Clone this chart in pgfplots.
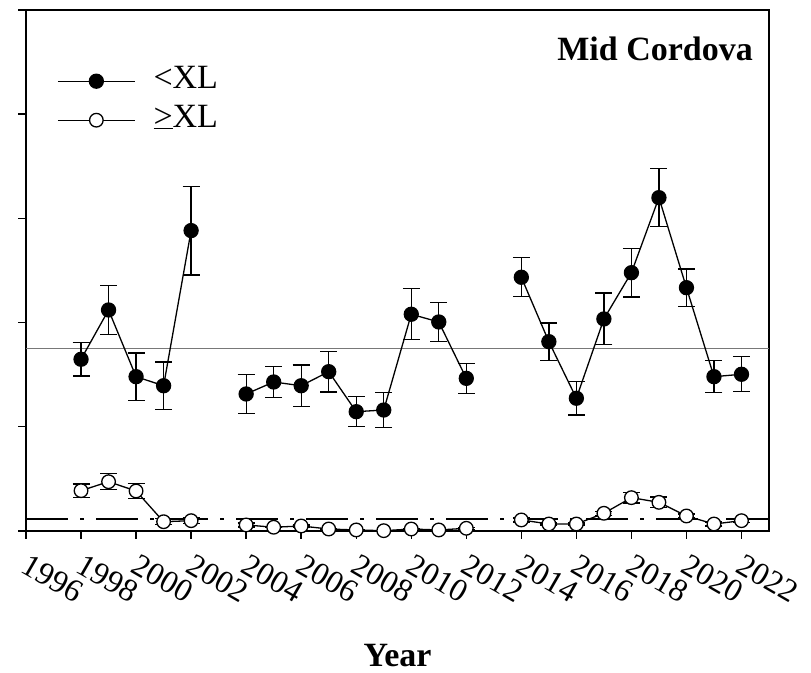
\documentclass[border=0pt]{standalone}
\usepackage{pgfplots}
\pgfplotsset{compat=1.18}
\usepackage{pgfplotstable}
\usepackage{fontspec}
\setmainfont{Liberation Serif}
\newcommand{\bigfont}{\fontsize{34}{40}\selectfont}
\newcommand{\tickfont}{\fontsize{32}{38}\selectfont}

\pgfplotstableread{
year  b      be     w      we
1998  1.648  0.160  0.387  0.065
1999  2.121  0.235  0.473  0.078
2000  1.481  0.227  0.384  0.070
2001  1.394  0.227  0.089  0.030
2002  2.883  0.425  0.099  0.030
2003  nan    nan    nan    nan
2004  1.315  0.187  0.058  0.020
2005  1.430  0.150  0.036  0.000
2006  1.394  0.200  0.048  0.010
2007  1.529  0.195  0.019  0.000
2008  1.145  0.143  0.010  0.000
2009  1.161  0.170  0.003  0.000
2010  2.080  0.245  0.019  0.000
2011  2.006  0.190  0.010  0.000
2012  1.465  0.144  0.026  0.010
2013  nan    nan    nan    nan
2014  2.435  0.187  0.106  0.020
2015  1.817  0.178  0.067  0.010
2016  1.274  0.160  0.067  0.010
2017  2.035  0.248  0.170  0.020
2018  2.479  0.233  0.320  0.050
2019  3.199  0.280  0.275  0.050
2020  2.335  0.180  0.144  0.020
2021  1.481  0.152  0.067  0.020
2022  1.504  0.168  0.099  0.020
}\datatable

\begin{document}
\begin{tikzpicture}
\begin{axis}[
  name=ax,
  scale only axis,
  width=743pt, height=521pt,
  xmin=1996, xmax=2023,
  ymin=0, ymax=5,
  xtick={1996,1998,...,2022},
  ytick={0,1,...,5},
  yticklabels={},
  xtick pos=bottom, ytick pos=left,
  tick align=outside,
  major tick length=8pt,
  axis line style={line width=1.4pt},
  every tick/.style={line width=1.4pt, black},
  /pgf/number format/assume math mode=true,
  /pgf/number format/1000 sep={},
  xticklabel style={font=\tickfont, inner sep=0pt, xshift=4pt, yshift=-14pt, rotate=-30, anchor=north west},
  unbounded coords=jump,
  legend style={draw=none, fill=none, font=\bigfont, at={(0,1)}, anchor=north west,
    xshift=31pt, yshift=-58pt, inner sep=0pt, column sep=18pt, row sep=13pt,
    nodes={inner sep=0pt, text height=20pt, text depth=6pt}},
  legend cell align=left,
  legend image code/.code={\draw[mark repeat=2,mark phase=2,#1] plot coordinates {(0pt,0pt) (38.5pt,0pt) (77pt,0pt)};},
]
\addplot[forget plot, color={rgb,255:red,120;green,120;blue,120}, line width=1.5pt] coordinates {(1996,1.751) (2023,1.751)};
\addplot[forget plot, black, line width=1.2pt, dash pattern=on 42pt off 12pt on 4pt off 12pt] coordinates {(1996,0.115) (2023,0.115)};

\addplot[black, line width=1.3pt, mark=*, mark size=7pt, mark options={fill=black, draw=black, solid},
  error bars/.cd, y dir=both, y explicit,
  error bar style={line width=1.3pt, black},
  error mark options={mark size=8.5pt, line width=1.3pt, rotate=90}]
  table[x=year, y=b, y error=be] {\datatable};
\addlegendentry{<XL}

\addplot[black, line width=1.3pt, mark=*, mark size=6.8pt, mark options={fill=white, draw=black, solid, line width=1.3pt},
  error bars/.cd, y dir=both, y explicit,
  error bar style={line width=1.3pt, black},
  error mark options={mark size=8.5pt, line width=1.3pt, rotate=90}]
  table[x=year, y=w, y error=we] {\datatable};
\addlegendentry{\underline{>}XL}

\node[anchor=base east, font=\bigfont\bfseries, inner sep=0pt] at (axis description cs:0.9785,0.904) {Mid Cordova};
\end{axis}
\node[anchor=base, font=\bigfont\bfseries, inner sep=0pt] at ([yshift=-136pt]ax.south) {Year};
\pgfresetboundingbox
\path[use as bounding box] ([xshift=-26pt,yshift=-142pt]ax.south west) rectangle ([xshift=42pt,yshift=10pt]ax.north east);
\end{tikzpicture}
\end{document}
